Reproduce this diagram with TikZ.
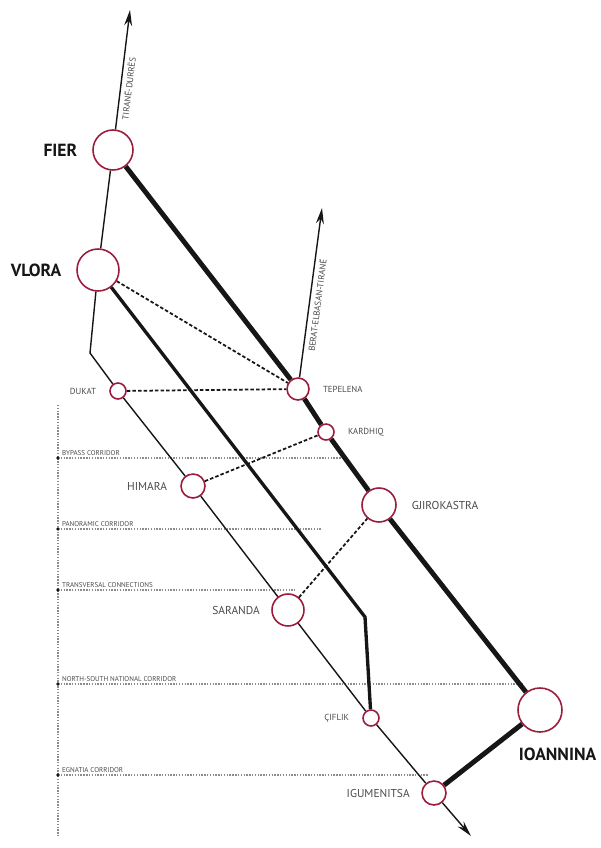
\documentclass[tikz,border=0pt]{standalone}
\usepackage{fontspec}
\setmainfont{PT Sans}
\usetikzlibrary{arrows.meta,positioning}
\definecolor{Hub}{HTML}{9B1C3C}
\definecolor{Ink}{HTML}{161616}
\definecolor{Grid}{HTML}{8C8C8C}
\definecolor{Label}{HTML}{4A4A4A}

\begin{document}
\begin{tikzpicture}[
  x=0.02cm,y=-0.02cm,
  town/.style={circle,draw=Hub,fill=white,line width=0.9pt,inner sep=0pt},
  road/.style={draw=Ink,line width=0.8pt},
  main/.style={draw=Ink,line width=2.8pt},
  coast/.style={draw=Ink,line width=1.9pt},
  link/.style={draw=Ink,line width=1pt,dash pattern=on 2pt off 1.2pt},
  corr/.style={draw=Grid,line width=0.6pt,dash pattern=on 0.8pt off 0.8pt},
  arr/.style={road,-{Stealth[length=9pt,width=4.5pt]}},
  big/.style={font=\bfseries\fontsize{10}{10}\selectfont,text=Ink},
  mid/.style={font=\fontsize{6.5}{7}\selectfont,text=Label},
  small/.style={font=\fontsize{5}{5}\selectfont,text=Label},
  tiny/.style={font=\fontsize{4}{4}\selectfont,text=Label},
  node distance=3pt
]
  \useasboundingbox (0,0) rectangle (600,848);

  % corridors
  \draw[corr] (58,405) -- (58,836);
  \foreach \y/\xe/\txt in {458/345/BYPASS CORRIDOR,529/322/PANORAMIC CORRIDOR,590/295/TRANSVERSAL CONNECTIONS,684/522/NORTH-SOUTH NATIONAL CORRIDOR,775/428/EGNATIA CORRIDOR}{
    \coordinate (cs\y) at (58,\y);
    \coordinate (ce\y) at (\xe,\y);
    \draw[corr] (cs\y) -- (ce\y);
    \fill[Ink] (cs\y) circle (1.1pt);
    \node[tiny,anchor=south west,inner sep=1pt] at (60,\y) {\txt};
  }

  % towns
  \node[town,minimum size=0.80cm] (fier) at (113,150) {};
  \node[town,minimum size=0.84cm] (vlora) at (98,270) {};
  \node[town,minimum size=0.32cm] (dukat) at (118,391) {};
  \node[town,minimum size=0.44cm] (tepelena) at (298,389) {};
  \node[town,minimum size=0.32cm] (kardhiq) at (326,432) {};
  \node[town,minimum size=0.48cm] (himara) at (193,486) {};
  \node[town,minimum size=0.68cm] (gjirokastra) at (379,505) {};
  \node[town,minimum size=0.64cm] (saranda) at (288,610) {};
  \node[town,minimum size=0.32cm] (ciflik) at (371,718) {};
  \node[town,minimum size=0.88cm] (ioannina) at (540,710) {};
  \node[town,minimum size=0.48cm] (igumenitsa) at (434,793) {};

  \node[big,left=5pt of fier] (fierlbl) {FIER};
  \node[big,left=5pt of vlora] (vloralbl) {VLORA};
  \node[small,left=4pt of dukat] (dukatlbl) {DUKAT};
  \node[small,right=4pt of tepelena] (tepelenalbl) {TEPELENA};
  \node[small,right=4pt of kardhiq] (kardhiqlbl) {KARDHIQ};
  \node[mid,left=4pt of himara] (himaralbl) {HIMARA};
  \node[mid,right=5pt of gjirokastra] (gjirokastralbl) {GJIROKASTRA};
  \node[mid,left=3pt of saranda] (sarandalbl) {SARANDA};
  \node[small,left=4pt of ciflik] (ciflikilbl) {ÇIFLIK};
  \node[big,below=5pt of ioannina,xshift=10pt] (ioanninalbl) {IOANNINA};
  \node[mid,left=3pt of igumenitsa] (igumenitsalbl) {IGUMENITSA};

  % free ends
  \coordinate (north) at (130,10);
  \coordinate (berat) at (322,208);
  \coordinate (south) at (471,836);
  \coordinate (bend1) at (90,353);
  \coordinate (bend2) at (365,617);

  % roads
  \draw[arr] (fier) -- (north) node[pos=0.35,sloped,below,small,inner sep=2pt] {TIRANË-DURRËS};
  \draw[arr] (tepelena) -- (berat) node[pos=0.43,sloped,below,small,inner sep=2pt] {BERAT-ELBASAN-TIRANË};
  \draw[road] (fier) -- (vlora);
  \draw[road] (vlora) -- (bend1) -- (dukat);
  \draw[road] (dukat) -- (himara);
  \draw[road] (himara) -- (saranda);
  \draw[road] (saranda) -- (ciflik);
  \draw[road] (ciflik) -- (igumenitsa);
  \draw[arr] (igumenitsa) -- (south);
  \draw[main] (fier) -- (tepelena);
  \draw[main] (tepelena) -- (kardhiq);
  \draw[main] (kardhiq) -- (gjirokastra);
  \draw[main] (gjirokastra) -- (ioannina);
  \draw[main] (ioannina) -- (igumenitsa);
  \draw[coast] (vlora) -- (bend2) -- (ciflik);

  % transversal links
  \draw[link] (vlora) -- (tepelena);
  \draw[link] (dukat) -- (tepelena);
  \draw[link] (himara) -- (kardhiq);
  \draw[link] (saranda) -- (gjirokastra);
\end{tikzpicture}
\end{document}
